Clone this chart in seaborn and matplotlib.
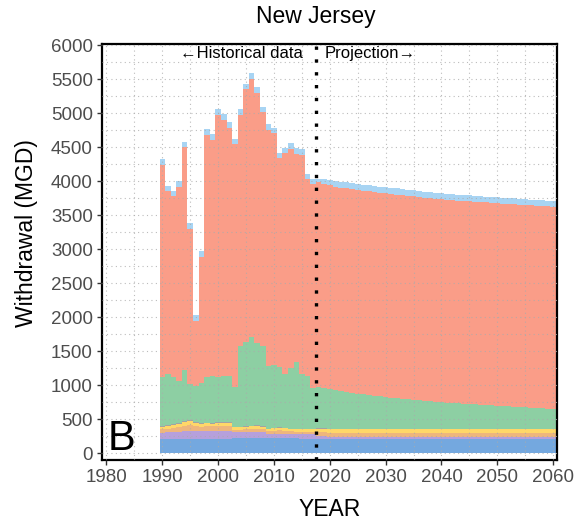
import matplotlib
matplotlib.use("Agg")
import matplotlib.pyplot as plt
from matplotlib.ticker import MultipleLocator
import pandas as pd
import seaborn as sns

# ---------------------------------------------------------------------------
# New Jersey water withdrawal by sector, million gallons per day (MGD)
# Historical record 1990-2017, projection 2018-2060
# ---------------------------------------------------------------------------
years_hist = list(range(1990, 2018))
years_proj = list(range(2018, 2061))

# historical, 1990 ... 2017
other_hist = [89, 78, 74, 83, 83, 93, 79, 84, 84, 88, 93, 88, 79, 74,
              83, 78, 93, 88, 83, 83, 69, 64, 73, 79, 83, 84, 74, 78]
thermo_hist = [3122, 2686, 2671, 2853, 3274, 2279, 956, 1853, 3559, 3471,
               3853, 3760, 3647, 3569, 3397, 3711, 3799, 3676, 3432, 3466,
               3416, 3083, 3250, 3220, 3059, 3225, 2892, 2996]
public_hist = [717, 757, 693, 624, 751, 535, 540, 594, 677, 692, 668, 682,
               687, 590, 1189, 1247, 1301, 1208, 1188, 924, 919, 880, 787,
               895, 983, 802, 782, 605]
mining_hist = [8] * 28
irrig_hist = [40, 45, 47, 55, 61, 64, 49, 43, 44, 41, 44, 47, 46, 35,
              34, 35, 39, 41, 35, 30, 39, 41, 38, 34, 31, 31, 32, 31]
indus_hist = [48, 52, 55, 62, 78, 82, 70, 68, 70, 68, 72, 74, 72, 40,
              38, 40, 45, 48, 43, 40, 45, 48, 44, 40, 38, 40, 40, 42]
comm_hist = [95, 100, 104, 108, 115, 118, 116, 115, 116, 115, 117, 118, 117, 88,
             90, 91, 92, 93, 90, 66, 66, 67, 65, 64, 64, 63, 62, 62]
domestic_hist = [205, 205, 206, 207, 208, 208, 207, 206, 207, 208, 209, 208, 207, 214,
                 215, 216, 216, 215, 214, 216, 217, 216, 215, 214, 214, 213, 213, 212]

# projection, 2018 ... 2060
other_proj = [55, 68, 78, 86, 88, 88, 88, 89, 89, 89, 89, 89, 89, 89, 89,
              89, 89, 89, 89, 88, 88, 88, 88, 88, 88, 88, 88, 87, 87, 87,
              87, 86, 86, 86, 86, 86, 85, 85, 85, 85, 85, 84, 84]
thermo_proj = [3010, 3005, 3000, 2995, 2995, 2996, 2996, 2996, 2996, 2997,
               2998, 2998, 2999, 2998, 2997, 2996, 2995, 2993, 2991, 2989,
               2988, 2986, 2984, 2983, 2982, 2981, 2980, 2979, 2979, 2978,
               2978, 2977, 2976, 2976, 2976, 2976, 2976, 2977, 2977, 2977,
               2977, 2978, 2979]
public_proj = [607, 592, 577, 564, 552, 539, 527, 515, 504, 493, 482, 472,
               462, 454, 446, 438, 430, 423, 416, 409, 402, 395, 388, 383,
               378, 373, 368, 363, 358, 353, 348, 343, 338, 333, 328, 323,
               318, 312, 307, 302, 297, 291, 285]
mining_proj = [8] * 43
irrig_proj = [50, 51, 52, 52, 51, 52, 53, 52, 51, 52, 52, 53, 52, 51, 52,
              52, 53, 52, 51, 52, 52, 53, 52, 51, 52, 52, 53, 52, 51, 52,
              52, 53, 52, 51, 52, 52, 53, 52, 51, 52, 52, 53, 52]
indus_proj = [58, 58, 58, 59, 58, 58, 58, 59, 58, 58, 58, 59, 58, 58, 58,
              59, 58, 58, 58, 59, 58, 58, 58, 59, 58, 58, 58, 59, 58, 58,
              58, 59, 58, 58, 58, 59, 58, 58, 58, 59, 58, 58, 58]
comm_proj = [45, 43, 42, 41, 40, 40, 40, 40, 40, 40, 40, 40, 40, 40, 40,
             40, 40, 40, 40, 40, 40, 40, 40, 40, 40, 40, 40, 40, 40, 40,
             40, 40, 40, 40, 40, 40, 40, 40, 40, 40, 40, 40, 40]
domestic_proj = [201, 201, 200, 200, 200, 200, 200, 200, 200, 200, 200, 200,
                 200, 200, 200, 200, 200, 200, 200, 200, 200, 200, 200, 200,
                 200, 200, 200, 200, 200, 200, 200, 200, 200, 200, 200, 200,
                 200, 200, 200, 200, 200, 200, 200]

# stacking order, top of the column first
sectors = ["Other", "Thermoelectric", "Public supply", "Mining",
           "Irrigation", "Industrial", "Commercial", "Domestic"]
series = {
    "Other": other_hist + other_proj,
    "Thermoelectric": thermo_hist + thermo_proj,
    "Public supply": public_hist + public_proj,
    "Mining": mining_hist + mining_proj,
    "Irrigation": irrig_hist + irrig_proj,
    "Industrial": indus_hist + indus_proj,
    "Commercial": comm_hist + comm_proj,
    "Domestic": domestic_hist + domestic_proj,
}
colors = {
    "Other": "#A8D4F3",
    "Thermoelectric": "#FA9D88",
    "Public supply": "#8DCFA3",
    "Mining": "#A3A3A3",
    "Irrigation": "#FFD768",
    "Industrial": "#EEB67C",
    "Commercial": "#B6A0DC",
    "Domestic": "#74A8DF",
}

years = years_hist + years_proj
df = pd.DataFrame(
    [(y, s, v) for s in sectors for y, v in zip(years, series[s])],
    columns=["year", "sector", "mgd"],
)

sns.set_style("white")
plt.rcParams["font.family"] = ["Liberation Sans", "DejaVu Sans"]

fig = plt.figure(figsize=(5.78, 5.25), dpi=100)
ax = fig.add_axes([0.1765, 0.1238, 0.7872, 0.7924])

sns.histplot(
    data=df, x="year", weights="mgd", hue="sector", hue_order=sectors,
    palette=colors, multiple="stack", discrete=True, shrink=1,
    element="bars", fill=True, alpha=1, linewidth=0, antialiased=False,
    legend=False, ax=ax,
)

ax.set_xlim(1979.2, 2060.7)
ax.set_ylim(-103, 6015)
ax.set_xticks(range(1980, 2061, 10))
ax.set_yticks(range(0, 6001, 500))
ax.xaxis.set_minor_locator(MultipleLocator(5))
ax.yaxis.set_minor_locator(MultipleLocator(250))
ax.set_xlabel("")
ax.set_ylabel("")

ax.set_axisbelow(False)
ax.grid(which="both", color="#ABABAB", linestyle=(0, (1, 3)),
        linewidth=0.8, alpha=0.8)

ax.tick_params(axis="both", which="major", direction="out", length=3.5,
               width=1, color="#333333", labelcolor="#4D4D4D",
               labelsize=13.5, pad=3, bottom=True, left=True)
ax.tick_params(axis="both", which="minor", length=0)
for sp in ax.spines.values():
    sp.set_color("black")
    sp.set_linewidth(1.6)

# boundary between record and projection
ax.axvline(2017.5, color="black", linewidth=2.4,
           linestyle=(0, (1, 2.85)), dash_capstyle="butt", zorder=5)
ax.text(2015.1, 5870, "\u2190Historical data", ha="right", va="center",
        fontsize=12, color="black", zorder=6)
ax.text(2019.1, 5870, "Projection\u2192", ha="left", va="center",
        fontsize=12, color="black", zorder=6)

ax.text(1980.2, 40, "B", ha="left", va="baseline", fontsize=30,
        color="black", zorder=6)

fig.text(315.5 / 578, 1 - 17 / 525, "New Jersey", ha="center",
         va="center", fontsize=16.5, color="black")
fig.text(27 / 578, 1 - 233 / 525, "Withdrawal (MGD)", ha="center",
         va="center", rotation=90, fontsize=16.5, color="black")
fig.text(330 / 578, 1 - 509 / 525, "YEAR", ha="center", va="center",
         fontsize=16.5, color="black")

fig.savefig("out.png", dpi=100)
